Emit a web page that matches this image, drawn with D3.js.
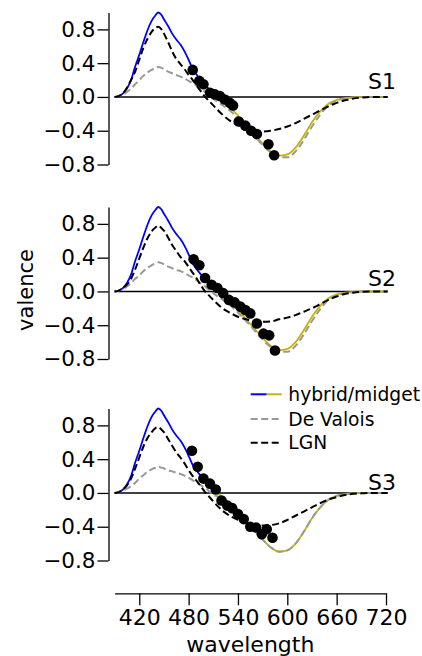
<!DOCTYPE html>
<html>
<head>
<meta charset="utf-8">
<script src="https://cdn.jsdelivr.net/npm/d3@7"></script>
<style>
  body { margin: 0; background: #fff; }
  svg { display: block; font-family: "DejaVu Sans", sans-serif; }
  .axis path, .axis line { stroke: #000; stroke-width: 1.3; }
  .axis text { font-family: "DejaVu Sans", sans-serif; font-size: 21.5px; fill: #000; }
  .x-axis text { font-size: 22px; }
</style>
</head>
<body>
<div id="chart"></div>
<script>
// wavelength grid (nm) shared by all curves
var wl = [390, 395, 400, 405, 410, 415, 420, 425, 430, 435, 440, 443, 447, 450, 455, 460, 465, 470, 475, 480,
          485, 490, 495, 500, 505, 510, 520, 530, 540, 550, 560, 570, 580, 590, 600, 610, 620, 630, 640, 650,
          660, 670, 680, 690, 700, 722];

// hybrid/midget model (same in the three panels)
var hybrid = [0, 0.01, 0.04, 0.10, 0.20, 0.36, 0.50, 0.65, 0.79, 0.90, 0.97, 1.0, 0.97, 0.92, 0.84, 0.75, 0.68, 0.62, 0.54, 0.44,
              0.33, 0.26, 0.20, 0.14, 0.09, 0.04, -0.04, -0.12, -0.22, -0.33, -0.44, -0.55, -0.645, -0.695, -0.68, -0.60, -0.46, -0.30, -0.17, -0.08,
              -0.035, -0.015, -0.005, 0, 0, 0];

// De Valois curves
var deValois1 = [0, 0.01, 0.03, 0.06, 0.10, 0.15, 0.20, 0.25, 0.29, 0.32, 0.345, 0.355, 0.345, 0.33, 0.30, 0.28, 0.26, 0.24, 0.22, 0.19,
                 0.165, 0.13, 0.095, 0.06, 0.02, -0.02, -0.09, -0.16, -0.25, -0.35, -0.46, -0.57, -0.66, -0.715, -0.715, -0.645, -0.51, -0.35, -0.21, -0.10,
                 -0.045, -0.02, -0.008, 0, 0, 0];
var deValois2 = [0, 0.01, 0.03, 0.06, 0.10, 0.15, 0.19, 0.24, 0.28, 0.31, 0.335, 0.345, 0.335, 0.32, 0.295, 0.275, 0.255, 0.24, 0.22, 0.19,
                 0.165, 0.13, 0.095, 0.06, 0.02, -0.02, -0.09, -0.16, -0.25, -0.35, -0.46, -0.57, -0.66, -0.715, -0.715, -0.645, -0.51, -0.35, -0.21, -0.10,
                 -0.045, -0.02, -0.008, 0, 0, 0];
var deValois3 = [0, 0.01, 0.03, 0.05, 0.08, 0.12, 0.17, 0.21, 0.25, 0.28, 0.30, 0.31, 0.30, 0.29, 0.27, 0.255, 0.24, 0.225, 0.205, 0.18,
                 0.15, 0.12, 0.09, 0.06, 0.02, -0.02, -0.06, -0.13, -0.22, -0.33, -0.44, -0.55, -0.645, -0.695, -0.68, -0.60, -0.46, -0.30, -0.17, -0.08,
                 -0.035, -0.015, -0.005, 0, 0, 0];

// LGN curves
var lgn1 = [0, 0.01, 0.04, 0.11, 0.20, 0.30, 0.44, 0.58, 0.69, 0.77, 0.82, 0.83, 0.80, 0.75, 0.65, 0.54, 0.45, 0.39, 0.33, 0.26,
            0.20, 0.13, 0.065, 0.0, -0.05, -0.10, -0.20, -0.28, -0.33, -0.37, -0.40, -0.41, -0.40, -0.38, -0.35, -0.31, -0.26, -0.21, -0.16, -0.11,
            -0.07, -0.04, -0.02, -0.008, 0, 0];
var lgn2 = [0, 0.01, 0.04, 0.08, 0.15, 0.26, 0.39, 0.52, 0.63, 0.71, 0.76, 0.78, 0.75, 0.72, 0.64, 0.55, 0.48, 0.41, 0.36, 0.29,
            0.22, 0.15, 0.07, 0.0, -0.05, -0.10, -0.19, -0.25, -0.30, -0.33, -0.35, -0.36, -0.355, -0.33, -0.31, -0.28, -0.24, -0.20, -0.15, -0.10,
            -0.06, -0.03, -0.015, -0.005, 0, 0];
var lgn3 = [0, 0.01, 0.04, 0.09, 0.17, 0.29, 0.42, 0.55, 0.65, 0.72, 0.77, 0.78, 0.75, 0.72, 0.64, 0.56, 0.48, 0.42, 0.35, 0.27,
            0.20, 0.14, 0.075, 0.01, -0.045, -0.10, -0.20, -0.27, -0.32, -0.36, -0.38, -0.385, -0.38, -0.36, -0.32, -0.27, -0.22, -0.17, -0.12, -0.08,
            -0.05, -0.025, -0.01, -0.005, 0, 0];

// measured points (black dots)
var dotWl1 = [485, 493, 498, 506, 512, 518, 524, 530, 534, 541, 549, 556, 563, 577, 584];
var dotVal1 = [0.32, 0.19, 0.15, 0.05, 0.03, 0.01, -0.03, -0.07, -0.10, -0.29, -0.34, -0.40, -0.44, -0.56, -0.69];
var dotWl2 = [486, 493, 500, 508, 515, 522, 529, 536, 543, 549, 555, 563, 571, 578, 585];
var dotVal2 = [0.38, 0.31, 0.16, 0.08, 0.04, -0.02, -0.10, -0.13, -0.18, -0.22, -0.26, -0.38, -0.50, -0.52, -0.70];
var dotWl3 = [484, 491, 498, 506, 513, 520, 527, 533, 540, 547, 555, 562, 569, 575, 582];
var dotVal3 = [0.50, 0.31, 0.17, 0.11, 0.04, -0.09, -0.15, -0.18, -0.25, -0.31, -0.40, -0.41, -0.49, -0.43, -0.53];

var panelNames = ["S1", "S2", "S3"];
var legendLabels = ["hybrid/midget", "De Valois", "LGN"];
var xTicks = [420, 480, 540, 600, 660, 720];
var yTicks = [-0.8, -0.4, 0, 0.4, 0.8];

var panelsData = [
    {name: panelNames[0], deValois: deValois1, lgn: lgn1, dotWl: dotWl1, dotVal: dotVal1},
    {name: panelNames[1], deValois: deValois2, lgn: lgn2, dotWl: dotWl2, dotVal: dotVal2},
    {name: panelNames[2], deValois: deValois3, lgn: lgn3, dotWl: dotWl3, dotVal: dotVal3}
];

// layout
var width = 422, height = 656;
var panelTops = [12.5, 207, 408.5];
var panelHeight = 152;
var labelLift = [8, 5.6, 3];
var yAxisX = 108.5;
var xAxisY = 593.3;
var blue = "#0000ff", yellow = "#c8b400", grey = "#999999";
var dash = "7,3.5";

var svg = d3.select("#chart").append("svg")
    .attr("width", width)
    .attr("height", height);

var x = d3.scaleLinear().domain([390, 720]).range([114.6, 386]);

function pairs(xs, ys) {
    return xs.map(function (d, i) { return [d, ys[i]]; });
}

// split the hybrid curve at its zero crossing: blue above, yellow below
var firstNeg = hybrid.findIndex(function (v, i) { return i > 10 && v < 0; });
var hybridPts = pairs(wl, hybrid);
var hybridBlue = hybridPts.slice(0, firstNeg);
var hybridYellow = hybridPts.slice(firstNeg - 1);

panelsData.forEach(function (p, k) {
    var top = panelTops[k];
    var y = d3.scaleLinear().domain([-0.8, 1.0]).range([top + panelHeight, top]);
    var line = d3.line()
        .x(function (d) { return x(d[0]); })
        .y(function (d) { return y(d[1]); })
        .curve(d3.curveMonotoneX);

    var g = svg.append("g").attr("class", "panel panel-" + k);

    // zero line
    g.append("line")
        .attr("x1", x(wl[0])).attr("x2", x(wl[wl.length - 1]))
        .attr("y1", y(0)).attr("y2", y(0))
        .attr("stroke", "#000").attr("stroke-width", 1.5);

    g.append("path").datum(hybridBlue)
        .attr("d", line).attr("fill", "none")
        .attr("stroke", blue).attr("stroke-width", 1.8);
    g.append("path").datum(hybridYellow)
        .attr("d", line).attr("fill", "none")
        .attr("stroke", yellow).attr("stroke-width", 1.8);
    g.append("path").datum(pairs(wl, p.deValois))
        .attr("d", line).attr("fill", "none")
        .attr("stroke", grey).attr("stroke-width", 2)
        .attr("stroke-dasharray", dash);
    g.append("path").datum(pairs(wl, p.lgn))
        .attr("d", line).attr("fill", "none")
        .attr("stroke", "#000").attr("stroke-width", 2)
        .attr("stroke-dasharray", dash);

    g.selectAll("circle.dot").data(pairs(p.dotWl, p.dotVal)).enter()
        .append("circle")
        .attr("class", "dot")
        .attr("cx", function (d) { return x(d[0]); })
        .attr("cy", function (d) { return y(d[1]); })
        .attr("r", 5.3)
        .attr("fill", "#000");

    g.append("text")
        .attr("x", 368)
        .attr("y", y(0) - labelLift[k])
        .attr("font-size", 22)
        .text(p.name);

    var yAxis = d3.axisLeft(y)
        .tickValues(yTicks)
        .tickFormat(d3.format(".1f"))
        .tickSizeInner(11)
        .tickSizeOuter(0)
        .tickPadding(2);
    g.append("g")
        .attr("class", "axis y-axis")
        .attr("transform", "translate(" + yAxisX + ",0)")
        .call(yAxis);
});

// x axis under the last panel
var xAxis = d3.axisBottom(x)
    .tickValues(xTicks)
    .tickFormat(d3.format("d"))
    .tickSizeInner(12)
    .tickSizeOuter(0)
    .tickPadding(4.5);
svg.append("g")
    .attr("class", "axis x-axis")
    .attr("transform", "translate(0," + xAxisY + ")")
    .call(xAxis);

svg.append("text")
    .attr("x", (x.range()[0] + x.range()[1]) / 2)
    .attr("y", 651.5)
    .attr("text-anchor", "middle")
    .attr("font-size", 22)
    .text("wavelength");

svg.append("text")
    .attr("transform", "translate(33,290) rotate(-90)")
    .attr("text-anchor", "middle")
    .attr("font-size", 21)
    .text("valence");

// legend
var legend = svg.append("g").attr("class", "legend");
var rowY = [394.3, 419, 442.8];
legendLabels.forEach(function (label, i) {
    if (i === 0) {
        legend.append("line").attr("x1", 250.7).attr("x2", 266.7)
            .attr("y1", rowY[i]).attr("y2", rowY[i])
            .attr("stroke", blue).attr("stroke-width", 2);
        legend.append("line").attr("x1", 266.7).attr("x2", 281.7)
            .attr("y1", rowY[i]).attr("y2", rowY[i])
            .attr("stroke", yellow).attr("stroke-width", 2);
    } else {
        legend.append("line").attr("x1", 250.7).attr("x2", 281.7)
            .attr("y1", rowY[i]).attr("y2", rowY[i])
            .attr("stroke", i === 1 ? grey : "#000").attr("stroke-width", 2)
            .attr("stroke-dasharray", dash);
    }
    legend.append("text")
        .attr("x", 288.3)
        .attr("y", rowY[i] + 6.5)
        .attr("font-size", 18.7)
        .text(label);
});
</script>
</body>
</html>
